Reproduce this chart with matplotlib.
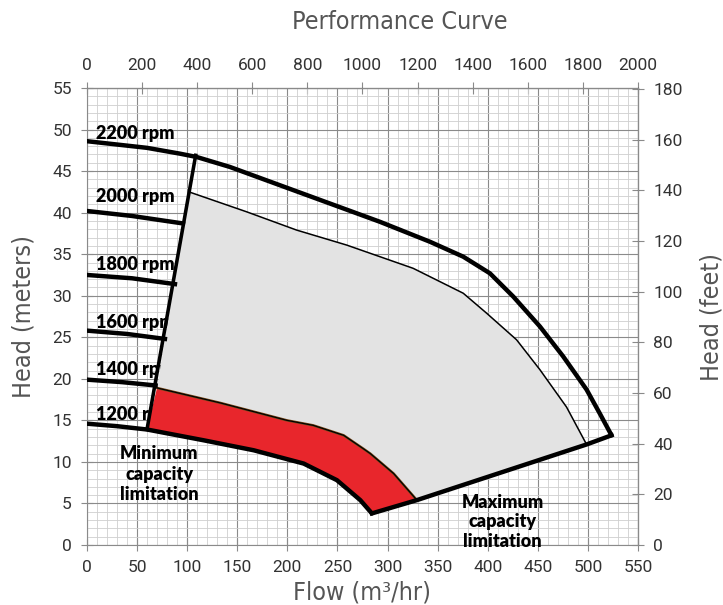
import numpy as np
import matplotlib.pyplot as plt
from matplotlib.ticker import MultipleLocator

# curve data: flow (m3/hr), head (m)
rpm_names = ['2200 rpm', '2000 rpm', '1800 rpm', '1600 rpm', '1400 rpm', '1200 rpm']
label_head = [48.9, 41.3, 33.1, 26.1, 20.5, 15.0]

rpm_flow = [[0, 45, 95.8], [0, 45, 87.8], [0, 40, 77.8], [0, 35, 68.5]]
rpm_head = [[40.2, 39.6, 38.7], [32.5, 32.1, 31.4], [25.8, 25.4, 24.8], [19.9, 19.6, 19.2]]

top_flow = [0, 59.9, 92.8, 109.5, 142.7, 192.6, 242.5, 292.4, 342.3, 375.6, 402.2, 425.5,
            452.1, 475.3, 498.7, 512.0, 523.6]
top_head = [48.6, 47.8, 47.1, 46.7, 45.5, 43.3, 41.1, 38.9, 36.5, 34.7, 32.7, 29.9,
            26.3, 22.7, 18.7, 15.8, 13.2]

inner_flow = [101.8, 159.4, 209.3, 259.2, 325.6, 375.6, 398.9, 428.8, 452.1, 478.7, 498.7]
inner_head = [42.5, 40.1, 37.9, 36.1, 33.3, 30.3, 27.9, 24.7, 21.1, 16.6, 12.1]

low_flow = [0, 30, 59.9, 116.5, 166.4, 216.3, 249.5, 272.8, 284.4]
low_head = [14.6, 14.3, 13.9, 12.6, 11.4, 9.8, 7.8, 5.4, 3.8]

red_flow = [69.9, 133.1, 199.6, 225.8, 256.2, 275.7, 282.8, 306.1, 329.3]
red_head = [18.9, 17.1, 15.0, 14.4, 13.2, 11.6, 11.0, 8.6, 5.4]

min_flow = [59.9, 108.5]
min_head = [13.9, 46.9]
max_flow = [284.4, 329.3, 498.7, 523.6]
max_head = [3.8, 5.4, 12.1, 13.2]

min_text = ['Minimum', 'capacity', 'limitation']
min_text_head = [10.3, 7.8, 5.4]
max_text = ['Maximum', 'capacity', 'limitation']
max_text_head = [4.5, 2.2, -0.2]

fig = plt.figure(figsize=(7.23, 6.05), dpi=100)
ax = fig.add_axes([0.1203, 0.0992, 0.7621, 0.7553])
ax.set_xlim(0, 550)
ax.set_ylim(0, 55)

thick = 3.2
thin = 1.1

# gray operating region
gx = inner_flow + max_flow[2:0:-1] + red_flow[::-1] + [inner_flow[0]]
gy = inner_head + max_head[2:0:-1] + red_head[::-1] + [inner_head[0]]
ax.fill(gx, gy, color='#e3e3e3', zorder=3, lw=0)

# red region near minimum speed
rx = low_flow[2:] + max_flow[1:2] + red_flow[::-1] + [low_flow[2]]
ry = low_head[2:] + max_head[1:2] + red_head[::-1] + [low_head[2]]
ax.fill(rx, ry, color='#e8262c', zorder=3, lw=0)

ax.plot(red_flow, red_head, color='#7a4a1a', lw=1.8, zorder=4)
ax.plot(red_flow, red_head, color='black', lw=0.9, zorder=4)
ax.plot(inner_flow, inner_head, color='black', lw=thin, zorder=4)
ax.plot(top_flow, top_head, color='black', lw=thick, zorder=5, solid_capstyle='round')
ax.plot(low_flow, low_head, color='black', lw=thick, zorder=5, solid_capstyle='round')
ax.plot(min_flow, min_head, color='black', lw=thick * 0.8, zorder=5)
ax.plot(max_flow, max_head, color='black', lw=thick, zorder=5, solid_joinstyle='miter')
ax.plot([max_flow[-1], top_flow[-1]], [max_head[-1], top_head[-1]], color='black', lw=thick, zorder=5)
for f, h in zip(rpm_flow, rpm_head):
    ax.plot(f, h, color='black', lw=thick, zorder=5)

# rpm labels sit under the shaded regions, as in the original
lab = dict(fontsize=13, fontweight='heavy', family='Lato', va='baseline', zorder=2)
for name, h in zip(rpm_names, label_head):
    ax.text(9, h, name, ha='left', **lab)
lab['zorder'] = 6
for s, h in zip(min_text, min_text_head):
    ax.text(72, h, s, ha='center', **lab)
for s, h in zip(max_text, max_text_head):
    ax.text(415, h, s, ha='center', **lab)

# grid paper
ax.xaxis.set_major_locator(MultipleLocator(50))
ax.xaxis.set_minor_locator(MultipleLocator(10))
ax.yaxis.set_major_locator(MultipleLocator(5))
ax.yaxis.set_minor_locator(MultipleLocator(1))
ax.grid(which='major', color='#8a8a8a', lw=0.8, zorder=0)
ax.grid(which='minor', color='#cfcfcf', lw=0.6, zorder=0)
ax.set_axisbelow(True)
for s in ax.spines.values():
    s.set_color('#8a8a8a')
    s.set_linewidth(0.8)

tick_font = 'Roboto'
tick_kw = dict(direction='inout', length=8, width=0.8, color='#8a8a8a',
               labelsize=12.5, labelcolor='#333333', pad=7)
ax.tick_params(which='major', **tick_kw)
ax.tick_params(which='minor', length=0)
for t in ax.get_xticklabels() + ax.get_yticklabels():
    t.set_family(tick_font)

top = ax.secondary_xaxis('top', functions=(lambda x: x * 2000 / 550, lambda x: x * 550 / 2000))
top.set_xticks(np.arange(0, 2001, 200))
top.tick_params(**tick_kw)
for t in top.get_xticklabels():
    t.set_family(tick_font)

right = ax.secondary_yaxis('right', functions=(lambda y: y * 3.2808, lambda y: y / 3.2808))
right.set_yticks(np.arange(0, 181, 20))
right.tick_params(**tick_kw)
for t in right.get_yticklabels():
    t.set_family(tick_font)

cond = dict(family='DejaVu Sans', stretch='condensed', color='#555555', fontsize=18)
ax.set_xlabel('Flow (m³/hr)', labelpad=4, **cond)
ax.set_ylabel('Head (meters)', labelpad=12, **cond)
right.set_ylabel('Head (feet)', labelpad=12, **cond)
fig.text(0.553, 0.963, 'Performance Curve', ha='center', va='center', **cond)

fig.savefig('out.png', dpi=100)
